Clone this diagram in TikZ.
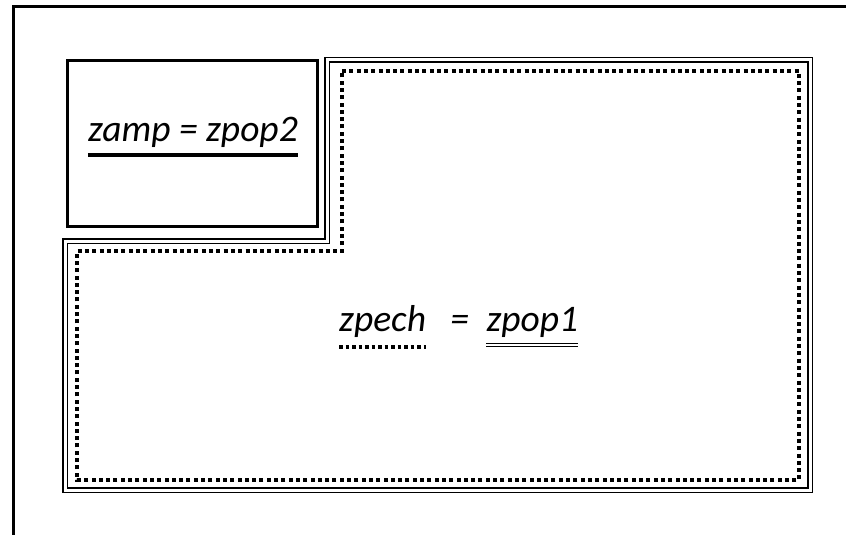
\documentclass[tikz,border=0pt]{standalone}
\usepackage{fontspec}
\setmainfont{Carlito}
\usepackage{tikz}
\usetikzlibrary{positioning, calc}
\tikzset{
    framebox/.style={line width=3pt, black},
    ampbox/.style={line width=3pt, black},
    popline/.style={double, double distance=3pt, line width=1.2pt, black},
    echline/.style={line width=4pt, dash pattern=on 4pt off 3.3pt, black},
    eqlabel/.style={font=\fontsize{37.5}{42}\selectfont\itshape, inner sep=0pt},
}

\begin{document}
\begin{tikzpicture}[x=1pt,y=-1pt]
\useasboundingbox (0,0) rectangle (846,535);

% outer frame (only top and left are visible)
\draw[framebox] (13,535) -- (13,7) -- (846,7);

% amplitude box
\draw[ampbox] (67,61) rectangle (317,226);
\node[eqlabel,anchor=base] (amp) at (193,141) {zamp = zpop2};
\draw[line width=4.5pt] ([yshift=-14pt]amp.base west) -- ([yshift=-14pt]amp.base east);

% population 1 (double L-shaped outline)
\coordinate (p1) at (327,60);
\coordinate (p2) at (810,60);
\coordinate (p3) at (810,490);
\coordinate (p4) at (65,490);
\coordinate (p5) at (65,241);
\coordinate (p6) at (327,241);
\draw[popline] (p1) -- (p2) -- (p3) -- (p4) -- (p5) -- (p6) -- cycle;

% sample (dotted L-shaped outline)
\coordinate (s1) at (342,71);
\coordinate (s2) at (799,71);
\coordinate (s3) at (799,480);
\coordinate (s4) at (77,480);
\coordinate (s5) at (77,251);
\coordinate (s6) at (342,251);
\draw[echline] (s1) -- (s2) -- (s3) -- (s4) -- (s5) -- (s6) -- cycle;

% sample = population 1
\node[eqlabel,anchor=base west] (ech) at (339,331) {zpech};
\node[eqlabel,right=24pt of ech.base east,anchor=base west] (eq) {=};
\node[eqlabel,right=17pt of eq.base east,anchor=base west] (pop) {zpop1};
\draw[echline,line width=3.5pt,dash pattern=on 3.5pt off 3pt] ([yshift=-16pt]ech.base west) -- ([yshift=-16pt]ech.base east);
\draw[popline,line width=1pt,double distance=2.5pt] ([yshift=-14pt]pop.base west) -- ([yshift=-14pt]pop.base east);
\end{tikzpicture}
\end{document}
